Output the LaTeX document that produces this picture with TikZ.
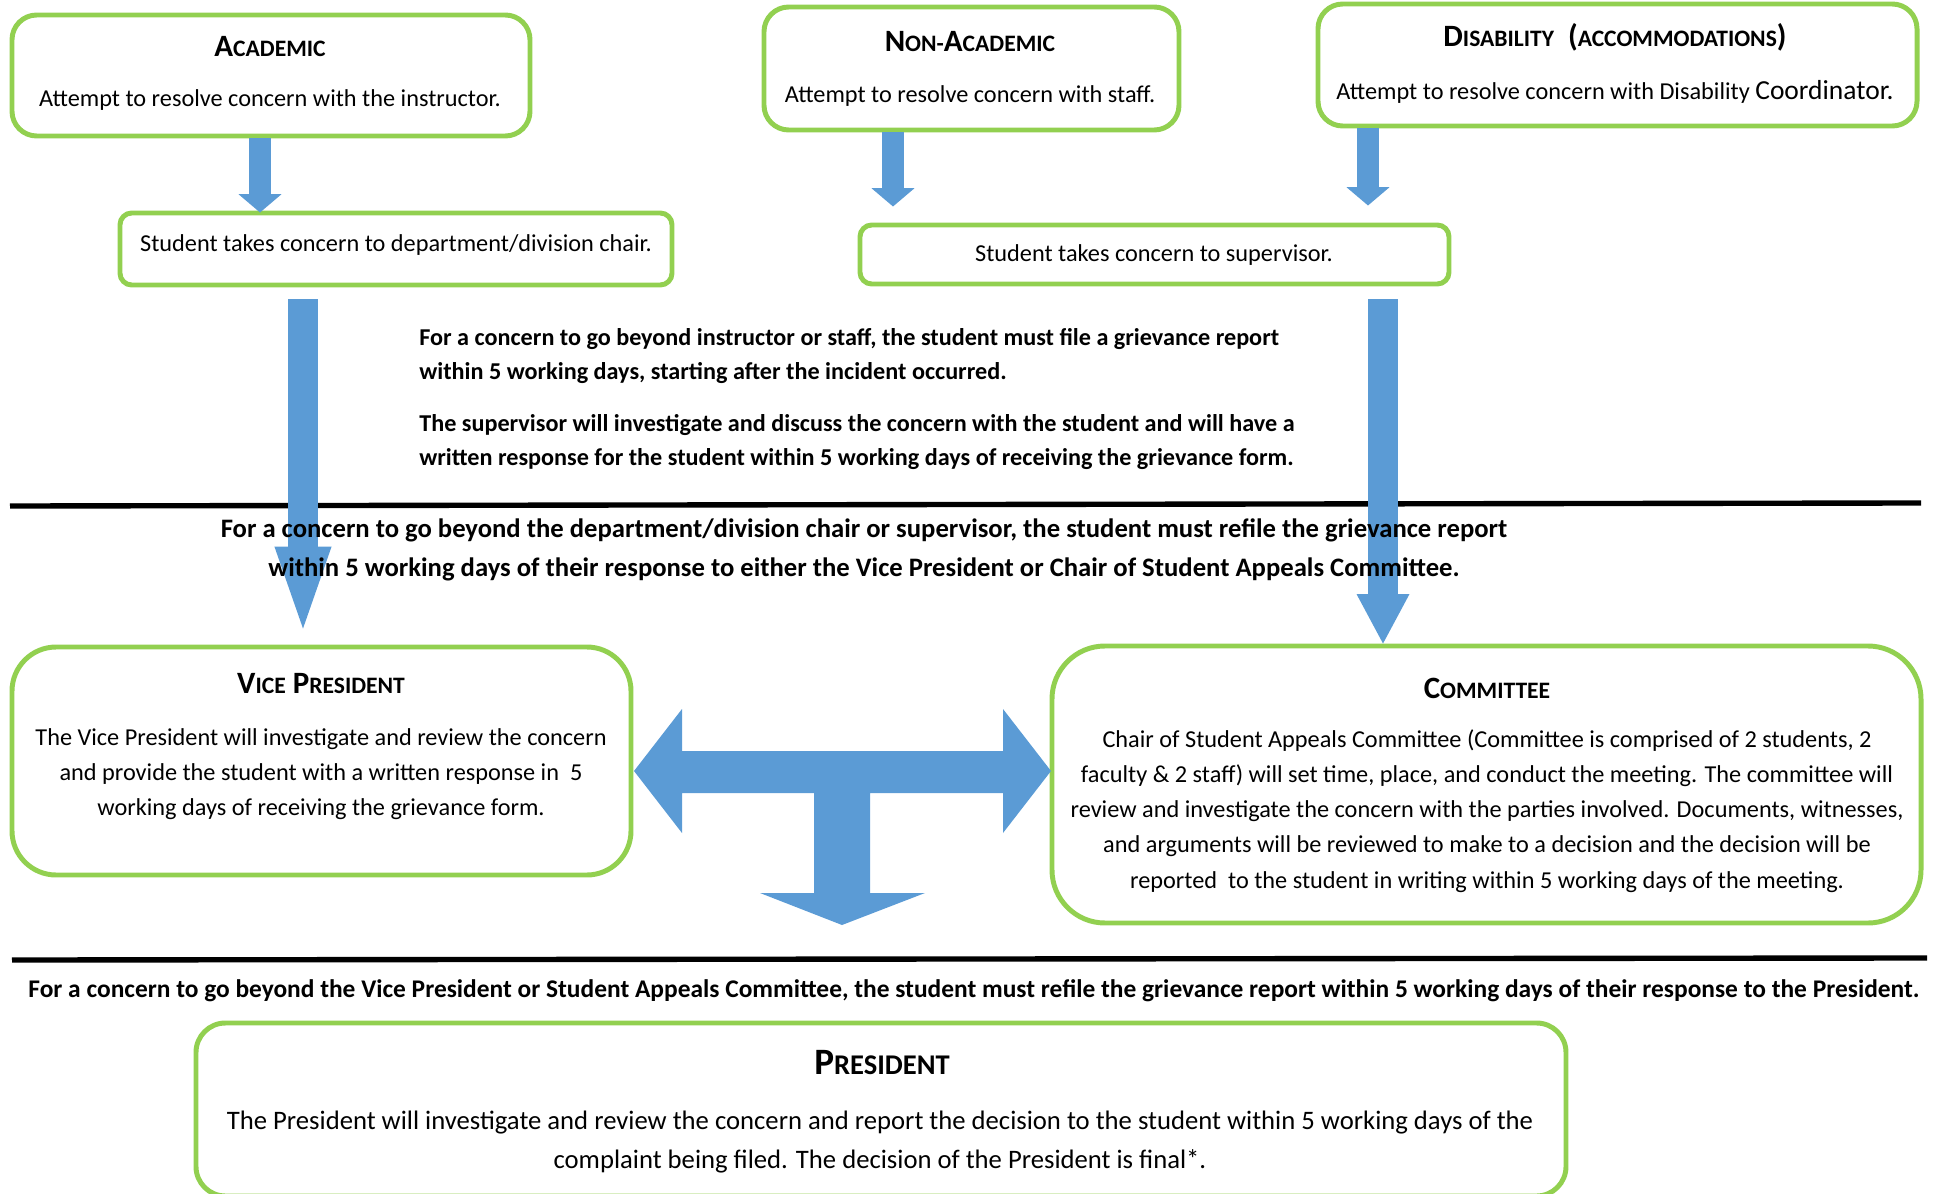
\documentclass[tikz,border=0pt]{standalone}
\usepackage{fontspec}
\setmainfont{Carlito}
\usetikzlibrary{arrows.meta,fit,calc}
\definecolor{boxgreen}{RGB}{146,208,80}
\definecolor{flowblue}{RGB}{91,155,213}
\newcommand\smc[2]{#1{\fontsize{11.4}{12}\selectfont #2}}
\tikzset{
  box/.style={draw=boxgreen, line width=2.4pt, rounded corners=0.42cm, inner sep=0pt},
  boxtitle/.style={font=\bfseries\fontsize{15}{17}\selectfont},
  boxtext/.style={font=\fontsize{11.75}{17}\selectfont, align=center},
  note/.style={font=\bfseries\fontsize{11.7}{16.4}\selectfont, align=left, anchor=west},
  bignote/.style={font=\bfseries\fontsize{12.9}{19}\selectfont, align=center},
  flow/.style={draw=flowblue, line width=0.36cm, -{Triangle[length=0.31cm, width=0.73cm, line width=0pt]}},
  bigflow/.style={draw=flowblue, line width=0.51cm, -{Triangle[length=1.39cm, width=0.97cm, line width=0pt]}},
  shortflow/.style={draw=flowblue, line width=0.51cm, -{Triangle[length=0.84cm, width=0.9cm, line width=0pt]}},
  rule/.style={line width=2.6pt}
}
\begin{document}
\begin{tikzpicture}[x=0.017cm, y=-0.017cm]
      \useasboundingbox (0,0) rectangle (1933,1194);
      %
      \node[box, fit={(12,15) (530,136)}] (acad) {};                 % top row
      \node[boxtitle] (acadtitle) at (270,47) {\smc{A}{CADEMIC}};
      \node[boxtext] (acadtext) at (270,100) {Attempt to resolve concern with the instructor.};
      %
      \node[box, fit={(764,7) (1179,130)}] (nonac) {};
      \node[boxtitle] (nonactitle) at (970,42) {\smc{N}{ON-}\smc{A}{CADEMIC}};
      \node[boxtext] (nonactext) at (970,96) {Attempt to resolve concern with staff.};
      %
      \node[box, fit={(1318,4) (1917,126)}] (disab) {};
      \node[boxtitle] (disabtitle) at (1615,37) {\smc{D}{ISABILITY}\ \ (\smc{}{ACCOMMODATIONS})};
      \node[boxtext] (disabtext) at (1615,92) {Attempt to resolve concern with Disability {\fontsize{13.3}{14}\selectfont Coordinator.}};
      %
      \node[box, rounded corners=0.2cm, fit={(120,213) (672,285)}] (dept) {};   % second row
      \node[boxtext] (depttext) at (396,245) {Student takes concern to department/division chair.};
      %
      \node[box, rounded corners=0.2cm, fit={(860,225) (1449,284)}] (sup) {};
      \node[boxtext] (suptext) at (1154,255) {Student takes concern to supervisor.};
      %
      \draw[flow] (acad.south -| 260,0) -- ++(0,74);
      \draw[flow] (nonac.south -| 893,0) -- ++(0,74);
      \draw[flow] (disab.south -| 1368,0) -- ++(0,77);
      %
      \node[note] (rulea) at (412,356) {For a concern to go beyond instructor or staff, the student must file a grievance report\\within 5 working days, starting after the incident occurred.};
      \node[note] (ruleb) at (412,442) {The supervisor will investigate and discuss the concern with the student and will have a\\written response for the student within 5 working days of receiving the grievance form.};
      %
      \draw[rule] (10,506) -- (1921,503);                          % first cut
      %
      \node[box, rounded corners=0.75cm, fit={(12,647) (631,875)}] (vp) {};     % third row
      \node[boxtitle] (vptitle) at (321,684) {\smc{V}{ICE} \smc{P}{RESIDENT}};
      \node[boxtext] (vptext) at (321,774) {The Vice President will investigate and review the concern\\and provide the student with a written response in~ 5\\working days of receiving the grievance form.};
      %
      \node[box, rounded corners=0.9cm, fit={(1052,646) (1921,923)}] (comm) {};
      \node[boxtitle] (commtitle) at (1487,688) {\smc{C}{OMMITTEE}};
      \node[boxtext] (commtext) at (1487,811) {Chair of Student Appeals Committee (Committee is comprised of 2 students, 2\\faculty \& 2 staff) will set time, place, and conduct the meeting. The committee will\\review and investigate the concern with the parties involved. Documents, witnesses,\\and arguments will be reviewed to make to a decision and the decision will be\\reported~ to the student in writing within 5 working days of the meeting.};
      %
      \draw[bigflow] ($(dept.south -| 303,0)+(0,12)$) -- ($(vp.north -| 303,0)+(0,-16)$);
      \draw[shortflow] ($(sup.south -| 1383,0)+(0,13)$) -- (comm.north -| 1383,0);
      %
      \node[bignote] (refile) at (864,550) {For a concern to go beyond the department/division chair or supervisor, the student must refile the grievance report\\within 5 working days of their response to either the Vice President or Chair of Student Appeals Committee.};
      %
      \fill[flowblue] (634,771) -- (682,709) -- (682,751) -- (1003,751) -- (1003,709)   % tee arrow
            -- (1051,771) -- (1003,833) -- (1003,793) -- (870,793) -- (870,893)
            -- (925,893) -- (842,925) -- (760,893) -- (814,893) -- (814,793)
            -- (682,793) -- (682,833) -- cycle;
      %
      \draw[rule] (12,960) -- (1927,958);                          % second cut
      \node[bignote, font=\bfseries\fontsize{12.3}{14}\selectfont] (final) at (974,991) {For a concern to go beyond the Vice President or Student Appeals Committee, the student must refile the grievance report within 5 working days of their response to the President.};
      %
      \node[box, rounded corners=0.5cm, fit={(196,1023) (1566,1196)}] (pres) {};  % last row
      \node[boxtitle, font=\bfseries\fontsize{18}{20}\selectfont] (prestitle) at (882,1063) {P{\fontsize{13.8}{14}\selectfont RESIDENT}};
      \node[boxtext, font=\fontsize{12.9}{19}\selectfont] (prestext) at (880,1142) {The President will investigate and review the concern and report the decision to the student within 5 working days of the\\complaint being filed. The decision of the President is final*.};
    \end{tikzpicture}
\end{document}
